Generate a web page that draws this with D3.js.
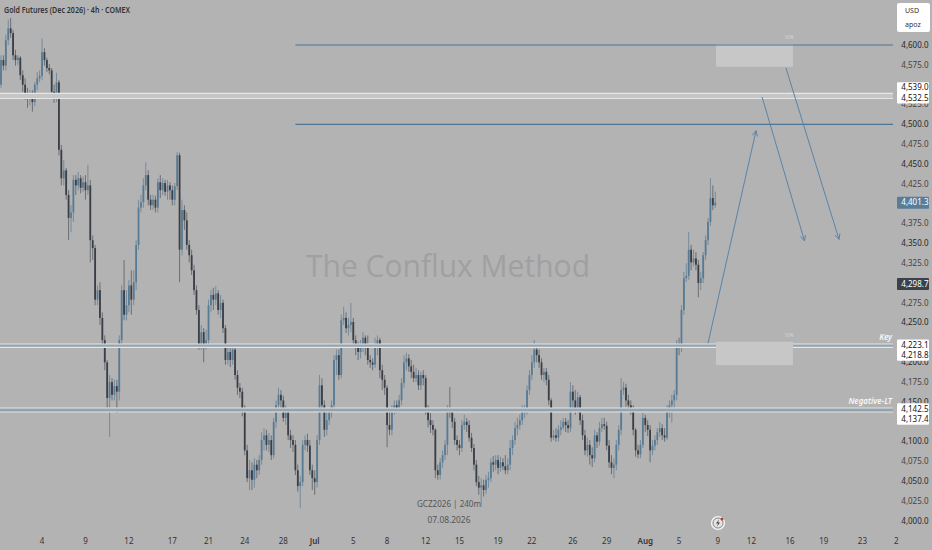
<!DOCTYPE html>
<html>
<head>
<meta charset="utf-8">
<script src="https://cdn.jsdelivr.net/npm/d3@7"></script>
<style>
  body { margin: 0; padding: 0; background: #b3b3b3; }
  svg { display: block; font-family: "Noto Sans", "DejaVu Sans", sans-serif; }
</style>
</head>
<body>
<script>
// GCZ2026, 4h bars, 1 Jun .. 7 Aug 2026
const opens = [
4594,4550,4581,4574,4606,4621,4615,4587,4581,4584,
4562,4550,4537,4533,4538,4528,4550,4558,4561,4591,
4581,4571,4568,4541,4533,4553,4468,4432,4442,4411,
4382,4389,4430,4423,4432,4420,4427,4417,4423,4354,
4344,4279,4291,4256,4228,4200,4155,4175,4159,4170,
4163,4228,4291,4260,4272,4297,4279,4301,4348,4395,
4402,4423,4436,4405,4398,4405,4395,4427,4417,4426,
4415,4423,4417,4405,4422,4461,4342,4392,4379,4348,
4335,4316,4291,4266,4222,4238,4222,4228,4272,4285,
4279,4287,4266,4275,4243,4203,4213,4203,4216,4184,
4168,4163,4137,4089,4054,4064,4052,4071,4064,4077,
4102,4108,4096,4102,4083,4125,4146,4159,4152,4130,
4137,4108,4102,4096,4064,4044,4049,4096,4102,4095,
4064,4054,4049,4102,4171,4146,4115,4127,4137,4146,
4203,4209,4184,4253,4256,4243,4247,4251,4228,4218,
4213,4218,4231,4222,4203,4200,4197,4222,4228,4190,
4178,4168,4121,4115,4140,4146,4142,4152,4174,4200,
4205,4195,4188,4180,4184,4171,4184,4180,4140,4127,
4121,4115,4064,4058,4074,4083,4096,4140,4137,4125,
4102,4096,4092,4121,4125,4121,4105,4092,4071,4049,
4042,4045,4039,4052,4054,4074,4071,4077,4067,4074,
4069,4064,4071,4092,4102,4117,4121,4127,4137,4140,
4165,4184,4200,4216,4209,4200,4184,4188,4178,4152,
4105,4108,4105,4115,4118,4125,4121,4117,4163,4152,
4140,4156,4127,4108,4089,4096,4083,4079,4108,4100,
4117,4122,4120,4095,4074,4067,4071,4096,4115,4165,
4168,4152,4146,4140,4115,4089,4084,4096,4130,4121,
4115,4089,4095,4102,4112,4117,4108,4105,4137,4146,
4152,4159,4222,4218,4266,4306,4309,4342,4326,4331,
4323,4300,4306,4335,4354,4377,4407,4398
];
const highs = [
4600,4587,4587,4613,4632,4634,4619,4594,4587,4586,
4568,4558,4546,4543,4543,4553,4566,4568,4608,4596,
4584,4576,4571,4550,4565,4556,4474,4455,4445,4417,
4398,4436,4436,4440,4436,4434,4436,4449,4430,4360,
4348,4297,4301,4263,4234,4203,4184,4180,4178,4178,
4234,4297,4329,4291,4304,4316,4316,4354,4405,4411,
4432,4452,4442,4411,4411,4410,4432,4436,4432,4430,
4430,4427,4423,4426,4465,4464,4405,4398,4389,4354,
4342,4323,4297,4272,4247,4243,4241,4279,4291,4294,
4296,4291,4285,4279,4247,4222,4218,4222,4222,4190,
4174,4168,4146,4096,4077,4074,4079,4077,4083,4112,
4117,4115,4111,4108,4130,4152,4168,4165,4158,4146,
4140,4115,4108,4102,4071,4057,4102,4108,4110,4102,
4071,4064,4108,4184,4180,4152,4140,4142,4152,4209,
4216,4216,4260,4270,4263,4256,4275,4256,4234,4226,
4228,4238,4234,4234,4209,4205,4231,4234,4231,4197,
4184,4171,4140,4146,4152,4152,4159,4180,4209,4212,
4210,4203,4197,4193,4190,4188,4190,4184,4146,4136,
4127,4117,4071,4079,4089,4102,4146,4169,4142,4130,
4108,4102,4127,4134,4130,4127,4111,4097,4077,4057,
4054,4052,4058,4062,4079,4082,4083,4083,4081,4079,
4083,4079,4102,4108,4125,4130,4134,4146,4146,4171,
4190,4209,4228,4222,4216,4205,4193,4193,4184,4155,
4115,4117,4121,4127,4130,4130,4127,4175,4171,4165,
4163,4159,4134,4115,4105,4102,4093,4115,4112,4125,
4130,4130,4125,4102,4083,4079,4102,4121,4180,4175,
4173,4159,4152,4146,4117,4096,4102,4137,4134,4127,
4121,4102,4108,4117,4125,4122,4117,4146,4152,4159,
4165,4228,4231,4272,4314,4325,4364,4348,4342,4339,
4329,4314,4339,4360,4382,4432,4423,4415
];
const lows = [
4543,4546,4568,4568,4600,4609,4581,4574,4575,4556,
4541,4531,4521,4524,4516,4523,4543,4553,4556,4574,
4566,4563,4534,4527,4528,4461,4423,4423,4405,4354,
4364,4377,4411,4417,4413,4415,4405,4411,4326,4329,
4272,4272,4247,4222,4190,4140,4106,4152,4152,4136,
4152,4222,4253,4253,4263,4260,4272,4291,4342,4389,
4395,4417,4398,4392,4392,4389,4389,4407,4411,4410,
4405,4405,4398,4398,4417,4301,4335,4367,4342,4326,
4310,4285,4260,4216,4216,4200,4216,4218,4263,4266,
4272,4260,4256,4237,4197,4197,4194,4197,4178,4159,
4155,4132,4083,4049,4039,4039,4042,4054,4058,4071,
4089,4089,4087,4077,4079,4117,4137,4140,4125,4121,
4102,4092,4087,4058,4037,4016,4044,4089,4087,4058,
4039,4033,4042,4096,4137,4106,4108,4121,4130,4140,
4184,4178,4180,4247,4237,4234,4238,4222,4209,4203,
4205,4213,4209,4197,4193,4190,4193,4209,4180,4165,
4159,4093,4108,4108,4134,4136,4136,4146,4168,4190,
4188,4180,4175,4175,4165,4165,4171,4134,4118,4111,
4108,4054,4052,4052,4067,4077,4083,4130,4117,4096,
4089,4083,4087,4115,4112,4100,4087,4064,4044,4033,
4018,4031,4034,4042,4049,4062,4064,4059,4062,4064,
4059,4059,4064,4083,4096,4108,4115,4121,4130,4134,
4159,4178,4193,4200,4193,4178,4175,4171,4146,4100,
4102,4100,4100,4108,4115,4112,4111,4112,4142,4134,
4136,4121,4102,4083,4081,4071,4068,4074,4092,4095,
4112,4115,4089,4067,4059,4054,4064,4089,4108,4159,
4144,4140,4134,4108,4081,4079,4079,4092,4112,4107,
4074,4083,4089,4096,4106,4102,4100,4102,4130,4124,
4142,4152,4209,4213,4260,4301,4304,4316,4321,4316,
4282,4291,4300,4329,4348,4372,4392,4395
];
const closes = [
4550,4581,4574,4606,4621,4615,4587,4581,4584,4562,
4550,4537,4533,4538,4528,4550,4558,4561,4591,4581,
4571,4568,4541,4533,4553,4468,4432,4442,4411,4382,
4389,4430,4423,4432,4420,4427,4417,4423,4354,4344,
4279,4291,4256,4228,4200,4155,4175,4159,4170,4163,
4228,4291,4260,4272,4297,4279,4301,4348,4395,4402,
4423,4436,4405,4398,4405,4395,4427,4417,4426,4415,
4423,4417,4405,4422,4461,4342,4392,4379,4348,4335,
4316,4291,4266,4222,4238,4222,4228,4272,4285,4279,
4287,4266,4275,4243,4203,4213,4203,4216,4184,4168,
4163,4137,4089,4054,4064,4052,4071,4064,4077,4102,
4108,4096,4102,4083,4125,4146,4159,4152,4130,4137,
4108,4102,4096,4064,4044,4049,4096,4102,4095,4064,
4054,4049,4102,4171,4146,4115,4127,4137,4146,4203,
4209,4184,4253,4256,4243,4247,4251,4228,4218,4213,
4218,4231,4222,4203,4200,4197,4222,4228,4190,4178,
4168,4121,4115,4140,4146,4142,4152,4174,4200,4205,
4195,4188,4180,4184,4171,4184,4180,4140,4127,4121,
4115,4064,4058,4074,4083,4096,4140,4137,4125,4102,
4096,4092,4121,4125,4121,4105,4092,4071,4049,4042,
4045,4039,4052,4054,4074,4071,4077,4067,4074,4069,
4064,4071,4092,4102,4117,4121,4127,4137,4140,4165,
4184,4200,4216,4209,4200,4184,4188,4178,4152,4105,
4108,4105,4115,4118,4125,4121,4117,4163,4152,4140,
4156,4127,4108,4089,4096,4083,4079,4108,4100,4117,
4122,4120,4095,4074,4067,4071,4096,4115,4165,4168,
4152,4146,4140,4115,4089,4084,4096,4130,4121,4115,
4089,4095,4102,4112,4117,4108,4105,4137,4146,4152,
4159,4222,4218,4266,4306,4309,4342,4326,4331,4323,
4300,4306,4335,4354,4377,4407,4398,4401.3
];

// time axis: bar index of each day label
const tickBars   = [18, 36, 54, 72, 87, 102, 118, 131, 147, 161, 177, 191, 207, 221, 238, 252, 268, 282, 298, 312, 328, 342, 358, 372];
const tickLabels = ['4','9','12','17','21','24','28','Jul','5','8','12','15','19','22','26','29','Aug','5','9','12','16','19','23','2'];

// drawings
const levelPrices = [4600, 4500];
const levelFrom = 123;
const zoneHi = [4539.0, 4223.1, 4142.5];
const zoneLo = [4532.5, 4218.8, 4137.4];
const zoneNames = ['', 'Key', 'Negative-LT'];
const boxFrom = [297.3, 297.3];
const boxTo   = [329.2, 329.2];
const boxHi   = [4601, 4226];
const boxLo   = [4572.5, 4196.5];
const arrowFromBar = [294, 316.4, 326.3];
const arrowFromPx  = [4224, 4534.5, 4571];
const arrowToBar   = [313.9, 334, 348.3];
const arrowToPx    = [4492, 4353, 4355];

const lastPrice = 4401.3;
const markPrice = 4298.7;

const width = 932, height = 550, plotRight = 893;

const x = d3.scaleLinear().domain([0, 370]).range([-1.4, 891.4]);
const y = d3.scaleLinear().domain([4000, 4600]).range([521, 45]);

const fmt = d3.format(',.1f');

const svg = d3.select('body').append('svg')
  .attr('width', width)
  .attr('height', height);

svg.append('rect').attr('width', width).attr('height', height).attr('fill', '#b3b3b3');

svg.append('defs').append('clipPath').attr('id', 'plot')
  .append('rect').attr('x', 0).attr('y', 0).attr('width', plotRight).attr('height', 532);

// watermark
svg.append('text')
  .attr('x', 448).attr('y', 277)
  .attr('text-anchor', 'middle')
  .attr('font-family', '"Open Sans", sans-serif')
  .attr('font-size', 31)
  .attr('textLength', 284)
  .attr('lengthAdjust', 'spacingAndGlyphs')
  .attr('fill', '#a0a0a0')
  .text('The Conflux Method');

const plot = svg.append('g').attr('clip-path', 'url(#plot)');

const bars = d3.range(closes.length);
const up = i => closes[i] >= opens[i];

// wicks
plot.append('g')
  .selectAll('line')
  .data(bars)
  .join('line')
    .attr('x1', i => x(i)).attr('x2', i => x(i))
    .attr('y1', i => y(highs[i])).attr('y2', i => y(lows[i]))
    .attr('stroke', i => up(i) ? '#6e8698' : '#63676c')
    .attr('stroke-width', 0.9);

// bodies
plot.append('g')
  .selectAll('rect')
  .data(bars)
  .join('rect')
    .attr('x', i => x(i) - 0.9)
    .attr('width', 1.8)
    .attr('y', i => y(Math.max(opens[i], closes[i])))
    .attr('height', i => Math.max(0.8, Math.abs(y(opens[i]) - y(closes[i]))))
    .attr('fill', i => up(i) ? '#587b95' : '#3a3e45');

// zones (two light edges, tinted middle)
zoneHi.forEach((hi, k) => {
  const lo = zoneLo[k];
  const g = plot.append('g');
  g.append('rect')
    .attr('x', 0).attr('width', 897)
    .attr('y', y(hi)).attr('height', y(lo) - y(hi))
    .attr('fill', k === 0 ? '#c6c6c6' : '#93a2ad');
  [hi, lo].forEach(p => {
    g.append('line')
      .attr('x1', 0).attr('x2', 897)
      .attr('y1', y(p)).attr('y2', y(p))
      .attr('stroke', '#e6e6e6').attr('stroke-width', 1.1);
  });
  if (zoneNames[k]) {
    svg.append('text')
      .attr('x', 892).attr('y', y(hi) - 4)
      .attr('text-anchor', 'end')
      .attr('font-size', 8)
      .attr('font-weight', 600)
      .attr('font-style', 'italic')
      .attr('fill', '#f7f7f7')
      .text(zoneNames[k]);
  }
});

// target boxes
boxHi.forEach((hi, k) => {
  plot.append('rect')
    .attr('x', x(boxFrom[k])).attr('width', x(boxTo[k]) - x(boxFrom[k]))
    .attr('y', y(hi)).attr('height', y(boxLo[k]) - y(hi))
    .attr('fill', '#c7c7c7');
  svg.append('text')
    .attr('x', x(boxTo[k]) - 4).attr('y', y(hi) - 5)
    .attr('text-anchor', 'middle')
    .attr('font-size', 4.5)
    .attr('fill', '#dadada')
    .text('10%');
});

// horizontal levels
plot.append('g')
  .selectAll('line')
  .data(levelPrices)
  .join('line')
    .attr('x1', x(levelFrom)).attr('x2', 897)
    .attr('y1', d => y(d)).attr('y2', d => y(d))
    .attr('stroke', '#4f7594').attr('stroke-width', 1.2);

// projection arrows
arrowFromBar.forEach((b, k) => {
  const x1 = x(b), y1 = y(arrowFromPx[k]);
  const x2 = x(arrowToBar[k]), y2 = y(arrowToPx[k]);
  const a = Math.atan2(y2 - y1, x2 - x1);
  const len = 6, spread = 0.45;
  const g = plot.append('g')
    .attr('stroke', '#5b84a6').attr('stroke-width', 1).attr('fill', 'none');
  g.append('line').attr('x1', x1).attr('y1', y1).attr('x2', x2).attr('y2', y2);
  g.append('path').attr('d',
    `M${x2 - len * Math.cos(a - spread)},${y2 - len * Math.sin(a - spread)}` +
    `L${x2},${y2}` +
    `L${x2 - len * Math.cos(a + spread)},${y2 - len * Math.sin(a + spread)}`);
});

// tag layout on the price scale: [top, bottom] in pixels
const tagSpans = [];
zoneHi.forEach((hi, k) => {
  const tHi = k === 0 ? y(zoneLo[k]) - 11 : y(hi) + 0.8;
  tagSpans.push([tHi - 5.4, tHi + 16]);
});
[lastPrice, markPrice].forEach(p => tagSpans.push([y(p) - 6, y(p) + 6]));

// price axis: a label fully hidden behind a tag is not drawn
const priceTicks = d3.range(4000, 4601, 25);
const hidden = d => tagSpans.some(([t, b]) => y(d) > t + 1 && y(d) < b - 1);
svg.append('g')
  .selectAll('text')
  .data(priceTicks.filter(d => !hidden(d)))
  .join('text')
    .attr('x', 928.5).attr('y', d => y(d))
    .attr('dy', '0.35em')
    .attr('text-anchor', 'end')
    .attr('font-size', 8)
    .attr('fill', d => d % 50 === 0 ? '#262626' : '#444')
    .text(d => fmt(d));

// zone price tags
const tagG = svg.append('g');
zoneHi.forEach((hi, k) => {
  const lo = zoneLo[k];
  // top pair: lower tag sits on its price, upper one pushed up; others the other way
  const tHi = k === 0 ? y(lo) - 11 : y(hi) + 0.8;
  const tLo = tHi + 10.6;
  tagG.append('rect')
    .attr('x', 897).attr('width', 32)
    .attr('y', tHi - 5.4).attr('height', tLo - tHi + 10.8)
    .attr('rx', 1).attr('fill', '#ffffff');
  [[hi, tHi], [lo, tLo]].forEach(([p, ty]) => {
    tagG.append('text')
      .attr('x', 928.5).attr('y', ty).attr('dy', '0.35em')
      .attr('text-anchor', 'end').attr('font-size', 8)
      .attr('fill', '#131313')
      .text(fmt(p));
  });
});

[[lastPrice, '#5a7d97'], [markPrice, '#3c4048']].forEach(([p, c]) => {
  tagG.append('rect')
    .attr('x', 897).attr('width', 32)
    .attr('y', y(p) - 6).attr('height', 12)
    .attr('rx', 1).attr('fill', c);
  tagG.append('text')
    .attr('x', 928.5).attr('y', y(p)).attr('dy', '0.35em')
    .attr('text-anchor', 'end').attr('font-size', 8)
    .attr('fill', '#ffffff')
    .text(fmt(p));
});

// currency / unit box
const unit = svg.append('g');
unit.append('rect').attr('x', 897).attr('y', 3).attr('width', 33).attr('height', 29)
  .attr('rx', 2).attr('fill', '#ffffff');
unit.append('text').attr('x', 905).attr('y', 13).attr('font-size', 7).attr('fill', '#333').text('USD');
unit.append('text').attr('x', 905).attr('y', 26.5).attr('font-size', 7).attr('fill', '#333').text('apoz');

// time axis
svg.append('g')
  .selectAll('text')
  .data(tickBars)
  .join('text')
    .attr('x', d => x(d)).attr('y', 541)
    .attr('dy', '0.35em')
    .attr('text-anchor', 'middle')
    .attr('font-size', 8)
    .attr('font-weight', (d, i) => /[A-Za-z]/.test(tickLabels[i]) ? 600 : 400)
    .attr('fill', '#333')
    .text((d, i) => tickLabels[i]);

// title
svg.append('text')
  .attr('x', 4).attr('y', 12.5)
  .attr('font-size', 8.5)
  .attr('font-weight', 600)
  .attr('textLength', 126)
  .attr('lengthAdjust', 'spacingAndGlyphs')
  .attr('fill', '#333')
  .text('Gold Futures (Dec 2026) \u00b7 4h \u00b7 COMEX');

// symbol stamp
svg.append('text').attr('x', 449).attr('y', 504).attr('dy', '0.35em')
  .attr('text-anchor', 'middle').attr('font-size', 9).attr('fill', '#555')
  .attr('textLength', 64).attr('lengthAdjust', 'spacingAndGlyphs')
  .text('GCZ2026 | 240m');
svg.append('text').attr('x', 449).attr('y', 519.5).attr('dy', '0.35em')
  .attr('text-anchor', 'middle').attr('font-size', 9).attr('fill', '#555')
  .attr('textLength', 43).attr('lengthAdjust', 'spacingAndGlyphs')
  .text('07.08.2026');

// replay icon
const icon = svg.append('g').attr('transform', 'translate(718,523)');
icon.append('circle').attr('r', 6.5).attr('fill', '#e4e4e4').attr('stroke', '#f4f4f4').attr('stroke-width', 1.2);
icon.append('circle').attr('r', 5).attr('fill', 'none').attr('stroke', '#666').attr('stroke-width', 0.7);
icon.append('path').attr('d', 'M1,-3.5 L-2,0.5 L0,0.5 L-1,3.5 L2,-0.5 L0,-0.5 Z').attr('fill', '#444');
icon.append('circle').attr('cx', 4).attr('cy', -4).attr('r', 1.5).attr('fill', '#c0392b');
</script>
</body>
</html>
